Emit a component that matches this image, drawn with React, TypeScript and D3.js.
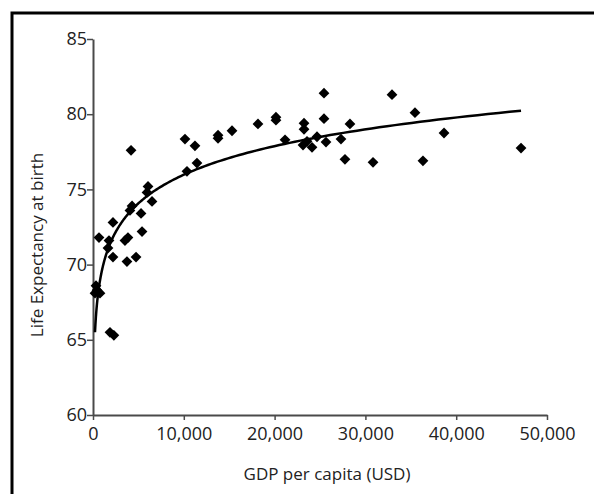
import React, { useEffect, useRef } from 'react';
import { select, scaleLinear, axisBottom, axisLeft, line, symbol, symbolSquare, format, range } from 'd3';

// GDP per capita (USD)
const gdp = [
  330, 440, 770, 220, 1870, 2300, 660, 1760, 1650, 2200, 2200, 3520, 3850, 3740, 4740, 5400, 4070,
  5290, 4300, 6060, 5950, 6500, 4190, 10130, 11230, 11450, 10350, 13770, 13770, 15310, 18170, 20150,
  20150, 21150, 23240, 23240, 23130, 24120, 23570, 24670, 25440, 25440, 25660, 27310, 28300, 27750,
  30840, 32930, 35460, 38660, 36340, 47140,
];
// life expectancy at birth, same order
const lifeExp = [
  68.6, 68.3, 68.1, 68.1, 65.5, 65.3, 71.8, 71.6, 71.1, 72.8, 70.5, 71.6, 71.8, 70.2, 70.5, 72.2, 73.6,
  73.4, 73.9, 75.2, 74.8, 74.2, 77.6, 78.35, 77.9, 76.75, 76.2, 78.6, 78.4, 78.9, 79.35, 79.8, 79.6,
  78.3, 79.4, 79.0, 77.95, 77.8, 78.2, 78.5, 81.4, 79.7, 78.15, 78.35, 79.35, 77.0, 76.8, 81.3, 80.1,
  78.75, 76.9, 77.75,
];
const xTicks = [0, 10000, 20000, 30000, 40000, 50000];
const yTicks = [60, 65, 70, 75, 80, 85];

const font = '"Open Sans", sans-serif';
const axisColor = '#4a4a4a';

function App() {
  const svgRef = useRef<SVGSVGElement>(null);

  useEffect(() => {
    const svg = select(svgRef.current);
    svg.selectAll('*').remove();

    const x = scaleLinear().domain([0, 50000]).range([93, 547]);
    const y = scaleLinear().domain([60, 85]).range([415, 39]);

    // frame, only left and top edges fall inside the picture
    svg.append('rect')
      .attr('x', 12).attr('y', 13).attr('width', 640).attr('height', 540)
      .attr('fill', 'none').attr('stroke', '#000').attr('stroke-width', 3);

    const gx = svg.append('g')
      .attr('transform', `translate(0,${y(60)})`)
      .call(axisBottom(x).tickValues(xTicks).tickSize(5).tickSizeOuter(0).tickFormat(format(',')));
    const gy = svg.append('g')
      .attr('transform', `translate(${x(0)},0)`)
      .call(axisLeft(y).tickValues(yTicks).tickSize(6).tickSizeOuter(0));

    [gx, gy].forEach((g) => {
      g.select('.domain').attr('stroke', axisColor).attr('stroke-width', 2);
      g.selectAll('.tick line').attr('stroke', axisColor).attr('stroke-width', 1.5);
      g.selectAll('text').attr('font-family', font).attr('font-size', 18).attr('fill', '#222');
    });
    gx.selectAll('text').attr('dy', '0.95em');
    gy.selectAll('text').attr('x', -6).attr('dy', '0.32em');

    // logarithmic trend line fitted to the points
    const lx = gdp.map((v) => Math.log(v));
    const n = gdp.length;
    const mx = lx.reduce((a, b) => a + b, 0) / n;
    const my = lifeExp.reduce((a, b) => a + b, 0) / n;
    let sxy = 0, sxx = 0;
    lx.forEach((v, i) => { sxy += (v - mx) * (lifeExp[i] - my); sxx += (v - mx) * (v - mx); });
    const b = sxy / sxx;
    const a = my - b * mx;
    const xmin = Math.min(...gdp), xmax = Math.max(...gdp);
    const curve = range(0, 201).map((i) => Math.exp(Math.log(xmin) + (Math.log(xmax) - Math.log(xmin)) * i / 200));

    svg.append('path')
      .datum(curve)
      .attr('fill', 'none')
      .attr('stroke', '#000')
      .attr('stroke-width', 2.5)
      .attr('d', line<number>().x((d) => x(d)).y((d) => y(a + b * Math.log(d))));

    // diamonds: squares turned by 45 degrees
    svg.append('g')
      .selectAll('path')
      .data(gdp)
      .enter()
      .append('path')
      .attr('transform', (d, i) => `translate(${x(d)},${y(lifeExp[i])}) rotate(45)`)
      .attr('d', symbol().type(symbolSquare).size(58)())
      .attr('fill', '#000');

    svg.append('text')
      .attr('x', 327).attr('y', 480)
      .attr('text-anchor', 'middle')
      .attr('font-family', font).attr('font-size', 17).attr('fill', '#222')
      .text('GDP per capita (USD)');

    svg.append('text')
      .attr('transform', 'translate(43,245) rotate(-90)')
      .attr('text-anchor', 'middle')
      .attr('font-family', font).attr('font-size', 17).attr('fill', '#222')
      .text('Life Expectancy at birth');
  }, []);

  return (
    <svg
      ref={svgRef}
      width={594}
      height={494}
      style={{ position: 'absolute', left: 0, top: 0, background: '#fff' }}
    />
  );
}

export default App;
